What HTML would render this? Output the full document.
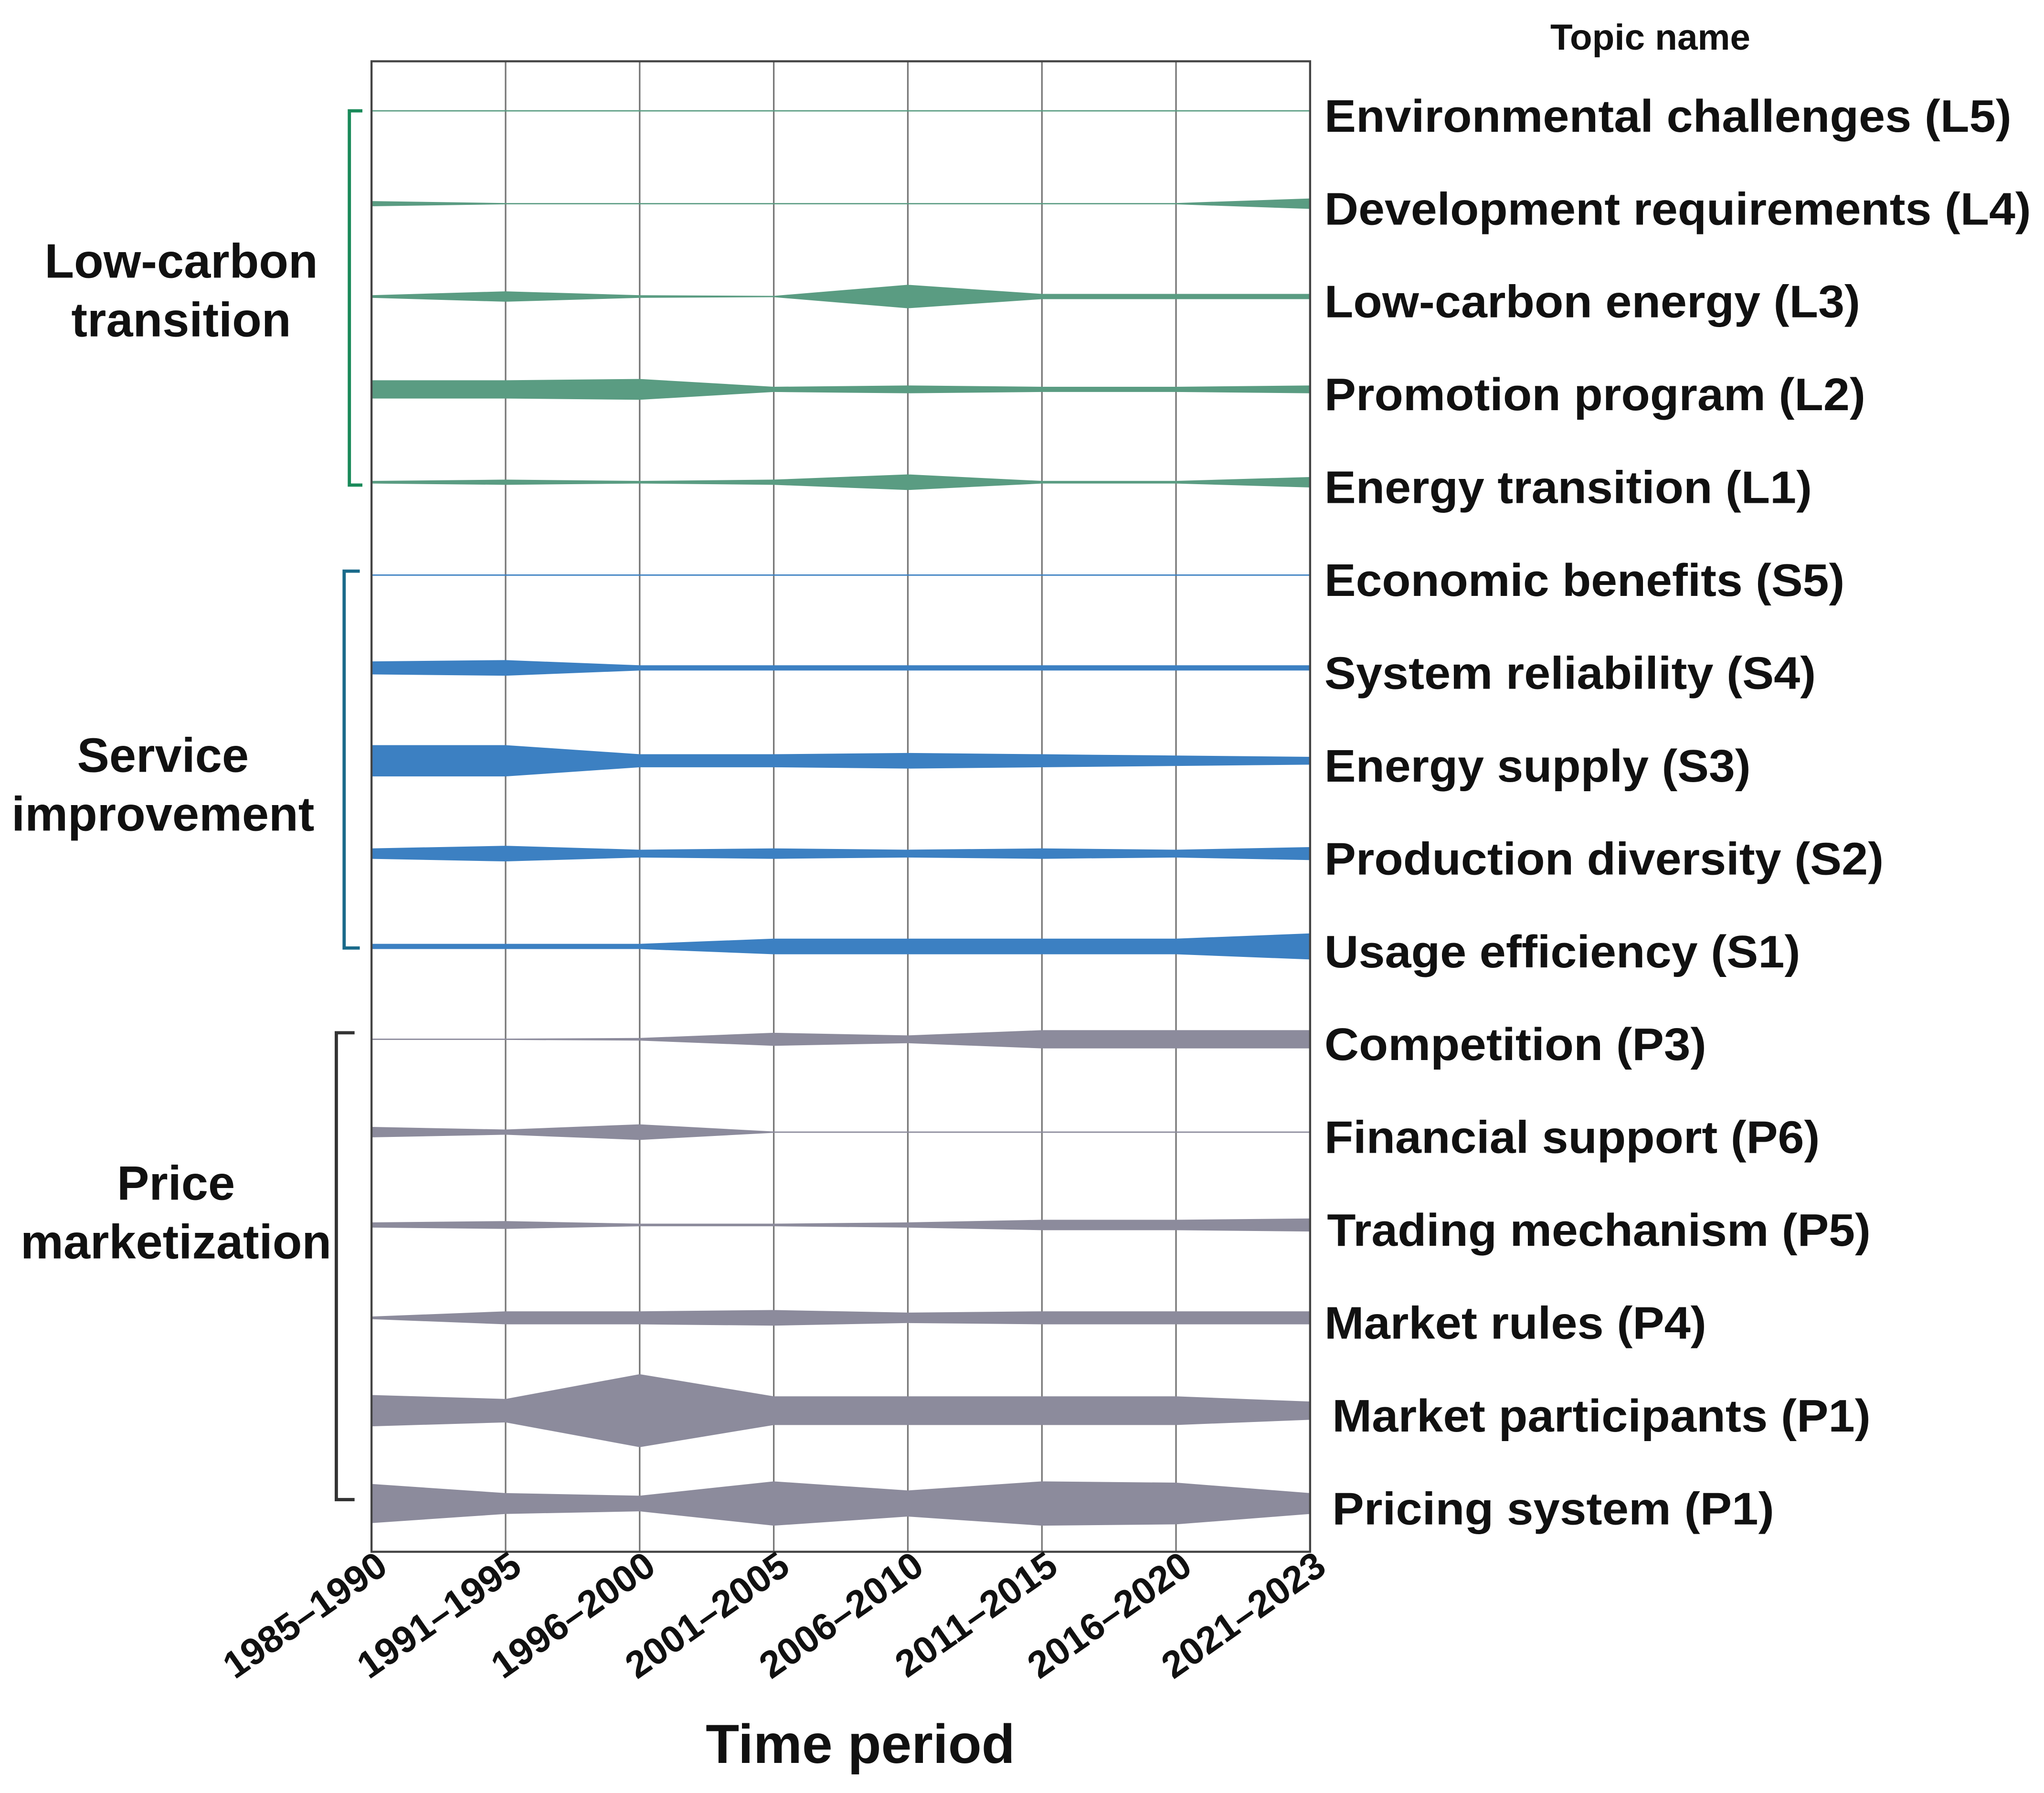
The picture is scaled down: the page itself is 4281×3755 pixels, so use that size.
<!DOCTYPE html>
<html><head><meta charset="utf-8"><style>
html,body{margin:0;padding:0;background:#fff;}
svg{display:block;}
text{font-family:"Liberation Sans",Arial,sans-serif;font-weight:bold;fill:#111;}
</style></head><body>
<svg id="chart" width="4281" height="3755" viewBox="0 0 1568 1375" preserveAspectRatio="none" xmlns="http://www.w3.org/2000/svg">
<g id="grid"></g>
<g id="flows"></g>
<rect x="285" y="47" width="720" height="1143" fill="none" stroke="#444" stroke-width="1.6"/>
<g id="labels"></g>
<g id="xticks"></g>
<text x="1266" y="38" font-size="28" text-anchor="middle">Topic name</text>
<text x="660" y="1352" font-size="42" text-anchor="middle">Time period</text>
<path d="M278,85 H268 V372 H278" fill="none" stroke="#1a8a5a" stroke-width="2.5"/>
<path d="M276,438 H264 V727 H276" fill="none" stroke="#1a6a8a" stroke-width="2.5"/>
<path d="M272,792 H258 V1150 H272" fill="none" stroke="#333" stroke-width="2.5"/>
<text font-size="37" text-anchor="middle"><tspan x="139" y="213">Low-carbon</tspan><tspan x="139" y="258">transition</tspan></text>
<text font-size="37" text-anchor="middle"><tspan x="125" y="592">Service</tspan><tspan x="125" y="637">improvement</tspan></text>
<text font-size="37" text-anchor="middle"><tspan x="135" y="920">Price</tspan><tspan x="135" y="965">marketization</tspan></text>
</svg>
<script>
const periods = ["1985–1990","1991–1995","1996–2000","2001–2005","2006–2010","2011–2015","2016–2020","2021–2023"];
const topics = ["Environmental challenges (L5)","Development requirements (L4)","Low-carbon energy (L3)","Promotion program (L2)","Energy transition (L1)","Economic benefits (S5)","System reliability (S4)","Energy supply (S3)","Production diversity (S2)","Usage efficiency (S1)","Competition (P3)","Financial support (P6)","Trading mechanism (P5)","Market rules (P4)","Market participants (P1)","Pricing system (P1)"];
const groups = ["L","L","L","L","L","S","S","S","S","S","P","P","P","P","P","P"];
const vL5=[0,0,0,0,0,0,0,0];
const vL4=[2,0,0,0,0,0,0,4];
const vL3=[1,4,1,0,9,2,2,2];
const vL2=[7,7,8,2,3,2,2,3];
const vL1=[1,2,1,2,6,1,1,4];
const vS5=[0,0,0,0,0,0,0,0];
const vS4=[5,6,2,2,2,2,2,2];
const vS3=[12,12,5,5,6,5,4,3];
const vS2=[4,6,3,4,3,4,3,5];
const vS1=[2,2,2,6,6,6,6,10];
const vP3=[0,0,1,5,3,7,7,7];
const vP6=[4,2,6,0,0,0,0,0];
const vP5=[2,3,1,1,2,4,4,5];
const vP4=[1,5,5,6,4,5,5,5];
const vP1a=[12,9,28,11,11,11,11,7];
const vP1b=[15,8,6,17,10,17,16,8];
const series=[vL5,vL4,vL3,vL2,vL1,vS5,vS4,vS3,vS2,vS1,vP3,vP6,vP5,vP4,vP1a,vP1b];
const colors={L:"#5a9c82",S:"#3c80c2",P:"#8c8b9c"};
const labelStart=[1016,1016,1016,1016,1016,1016,1016,1016,1016,1016,1016,1016,1018,1016,1022,1022];
const labelEnd=[1543,1558,1427,1431,1390,1415,1393,1343,1445,1381,1309,1396,1435,1309,1435,1361];
const NS="http://www.w3.org/2000/svg";
const xS=i=>285+i*(720/(periods.length-1));
const yS=r=>85+r*71.2;
const wS=v=>Math.max(v,0.5);
const grid=document.getElementById('grid'),flows=document.getElementById('flows'),labels=document.getElementById('labels'),xt=document.getElementById('xticks');
periods.forEach((p,i)=>{
  const l=document.createElementNS(NS,'line');
  
  
  l.setAttribute('x1',xS(i));l.setAttribute('x2',xS(i));l.setAttribute('y1',47);l.setAttribute('y2',1190);
  l.setAttribute('stroke','#777');l.setAttribute('stroke-width','1.2');
  grid.appendChild(l);
  const t=document.createElementNS(NS,'text');
  
  
  t.setAttribute('font-size','29');t.setAttribute('text-anchor','end');
  t.setAttribute('transform','translate('+(xS(i)+14)+',1205) rotate(-35)');
  t.textContent=p;xt.appendChild(t);
});
series.forEach((vals,r)=>{
  const y=yS(r);
  const top=vals.map((v,i)=>xS(i)+','+(y-wS(v)));
  const bot=vals.map((v,i)=>xS(i)+','+(y+wS(v))).reverse();
  const pg=document.createElementNS(NS,'polygon');
  
  
  pg.setAttribute('points',top.concat(bot).join(' '));
  pg.setAttribute('fill',colors[groups[r]]);
  flows.appendChild(pg);
  const t=document.createElementNS(NS,'text');
  
  
  t.setAttribute('x',labelStart[r]);t.setAttribute('y',y+16);t.setAttribute('font-size','35');
  t.setAttribute('textLength',String(labelEnd[r]-labelStart[r]));t.setAttribute('lengthAdjust','spacingAndGlyphs');
  t.textContent=topics[r];labels.appendChild(t);
});
</script>
</body></html>
